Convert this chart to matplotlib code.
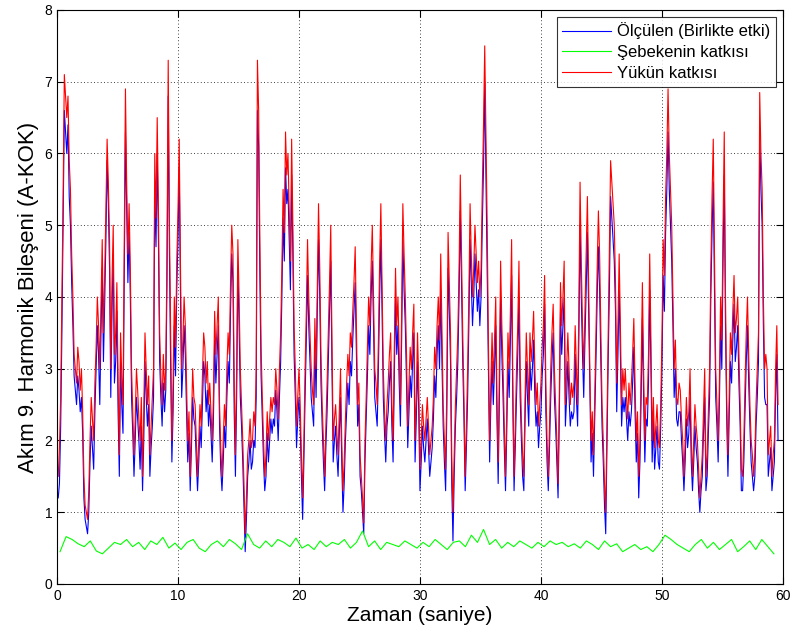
import numpy as np
import matplotlib
matplotlib.use("Agg")
import matplotlib.pyplot as plt

plt.rcParams['font.family'] = ['Liberation Sans', 'DejaVu Sans']

# Load contribution of the 9th harmonic current (A rms), 10 samples per row
load_part = [
    1.5, 1.9, 2.6, 4.0, 5.4, 7.1, 6.8, 6.5, 6.8, 5.9,
    5.5, 4.6, 4.0, 3.2, 3.0, 2.8, 3.3, 3.1, 2.7, 3.0,
    2.4, 1.5, 1.1, 1.0, 0.9, 1.3, 2.0, 2.6, 2.3, 2.0,
    2.8, 3.3, 4.0, 3.6, 3.0, 3.9, 4.8, 3.5, 4.3, 5.2,
    6.2, 5.6, 4.8, 3.0, 4.2, 5.0, 3.2, 3.5, 4.2, 2.8,
    1.8, 3.5, 2.9, 2.5, 4.8, 6.9, 5.6, 4.6, 5.3, 4.4,
    3.0, 2.4, 1.8, 2.3, 3.0, 2.7, 2.3, 2.0, 2.6, 1.5,
    2.4, 3.5, 3.0, 2.5, 2.9, 1.8, 2.2, 2.6, 3.0, 6.0,
    5.1, 6.5, 5.2, 3.5, 2.9, 2.5, 3.2, 2.7, 3.0, 4.6,
    7.3, 5.0, 3.5, 2.0, 2.8, 4.0, 3.3, 4.5, 5.2, 6.2,
    4.5, 3.0, 3.4, 4.0, 3.6, 2.8, 2.0, 2.4, 1.5, 2.2,
    3.0, 2.6, 2.5, 2.0, 1.5, 2.0, 2.5, 2.2, 2.9, 3.5,
    3.3, 2.8, 3.1, 2.5, 2.8, 2.4, 2.0, 2.6, 3.8, 3.2,
    3.6, 4.0, 2.5, 1.9, 1.5, 2.0, 2.5, 2.2, 3.0, 3.5,
    3.2, 4.2, 5.0, 4.6, 2.8, 1.8, 3.0, 4.8, 4.0, 3.0,
    2.5, 2.0, 1.4, 0.7, 1.2, 1.8, 2.0, 2.3, 1.9, 2.0,
    2.4, 2.2, 3.0, 7.3, 6.6, 4.8, 3.3, 2.6, 2.0, 1.5,
    1.8, 2.4, 2.0, 2.3, 2.6, 2.4, 2.6, 2.5, 3.0, 2.7,
    2.3, 3.0, 3.5, 4.4, 5.5, 4.9, 6.3, 5.7, 6.0, 5.2,
    4.5, 6.2, 5.0, 3.6, 3.0, 2.2, 2.6, 3.0, 2.5, 1.8,
    1.2, 2.0, 3.0, 3.8, 4.8, 4.0, 3.5, 3.0, 2.7, 2.5,
    3.7, 3.0, 4.2, 5.3, 4.4, 3.2, 2.5, 2.0, 1.5, 2.2,
    2.8, 3.5, 4.2, 5.0, 3.4, 2.0, 2.3, 2.5, 2.1, 1.8,
    2.4, 3.0, 2.0, 1.3, 1.7, 2.3, 2.8, 3.2, 2.9, 3.5,
    3.3, 3.8, 4.2, 4.7, 3.6, 2.5, 2.8, 1.8, 1.5, 1.2,
    0.85, 2.0, 2.6, 3.3, 4.0, 3.6, 4.4, 5.0, 4.0, 3.0,
    2.8, 2.5, 3.4, 4.5, 5.3, 4.2, 3.0, 2.4, 2.0, 2.5,
    2.8, 3.2, 3.5, 2.5, 2.0, 3.3, 4.4, 3.6, 4.0, 3.2,
    2.5, 3.8, 5.3, 4.6, 4.0, 3.2, 2.2, 2.8, 3.3, 3.0,
    3.5, 3.9, 2.0, 2.6, 3.5, 2.8, 1.6, 2.0, 2.5, 2.2,
    2.0, 2.3, 2.6, 2.2, 1.8, 2.0, 2.2, 2.6, 3.3, 3.0,
    3.6, 4.0, 3.4, 4.6, 3.5, 2.5, 2.0, 1.6, 2.8, 4.9,
    4.2, 3.5, 1.8, 1.0, 1.8, 2.5, 3.0, 3.5, 4.4, 5.7,
    4.6, 3.5, 2.6, 1.5, 2.2, 3.0, 4.0, 5.3, 4.6, 4.0,
    4.4, 5.0, 4.6, 4.2, 4.5, 4.0, 4.4, 5.5, 6.4, 7.5,
    6.2, 5.0, 3.4, 2.0, 2.8, 3.5, 2.8, 3.4, 4.0, 2.6,
    1.7, 3.0, 4.5, 3.6, 3.0, 2.2, 1.5, 2.4, 3.5, 3.0,
    3.8, 4.8, 2.8, 1.5, 2.2, 3.0, 3.6, 4.5, 3.0, 2.3,
    1.8, 1.5, 2.6, 3.5, 3.0, 2.5, 3.5, 3.1, 3.4, 3.8,
    3.0, 2.5, 2.8, 2.2, 2.5, 2.8, 3.3, 3.6, 4.3, 2.8,
    2.0, 1.5, 2.2, 3.0, 3.5, 3.9, 3.0, 2.5, 2.0, 1.4,
    2.6, 4.2, 3.6, 4.0, 4.5, 2.5, 3.0, 3.5, 3.0, 2.5,
    2.8, 2.6, 2.8, 3.6, 3.0, 2.5, 3.8, 5.6, 4.5, 3.6,
    3.0, 3.8, 4.6, 5.4, 4.2, 3.0, 2.0, 2.4, 1.8, 2.6,
    3.5, 4.4, 5.2, 4.6, 3.5, 2.5, 2.0, 1.4, 1.0, 2.2,
    3.5, 4.6, 5.9, 5.6, 5.3, 5.0, 4.2, 2.8, 3.6, 4.6,
    3.6, 2.5, 3.0, 2.7, 3.0, 2.6, 2.3, 2.8, 2.5, 2.8,
    3.2, 3.7, 2.8, 2.0, 2.4, 1.5, 2.0, 3.0, 4.2, 3.0,
    2.0, 2.6, 2.5, 3.2, 4.6, 3.4, 2.0, 2.6, 1.9, 2.2,
    2.5, 2.0, 1.9, 2.5, 3.4, 4.8, 4.3, 5.4, 6.0, 6.9,
    6.0, 5.5, 5.0, 4.0, 3.0, 3.4, 2.6, 2.5, 2.8, 2.7,
    2.3, 2.0, 1.5, 2.0, 2.6, 2.2, 2.4, 3.0, 2.0, 1.5,
    2.0, 2.5, 2.2, 2.0, 1.6, 1.2, 1.5, 1.8, 2.4, 3.0,
    1.5, 1.8, 2.4, 3.0, 4.4, 5.4, 6.2, 4.6, 3.0, 2.5,
    2.0, 2.8, 4.0, 3.4, 5.0, 6.3, 4.0, 2.6, 1.8, 2.6,
    3.5, 3.2, 3.8, 4.3, 3.5, 3.7, 4.0, 3.2, 2.5, 1.6,
    1.5, 2.0, 2.8, 3.5, 4.0, 3.2, 2.5, 2.0, 1.8, 1.5,
    1.8, 2.5, 3.0, 3.5, 6.85, 6.0, 5.5, 4.0, 3.0, 3.2,
    3.0, 1.8, 2.0, 2.2, 1.5, 1.8, 2.0, 3.0, 3.6, 2.5,
]

# Measured (combined) value (A rms), same sampling
measured = [
    1.2, 1.4, 2.2, 3.5, 5.0, 6.6, 6.3, 6.0, 6.4, 5.4,
    5.0, 4.2, 3.6, 2.9, 2.7, 2.5, 2.9, 2.7, 2.4, 2.6,
    2.1, 1.2, 0.9, 0.8, 0.7, 1.0, 1.7, 2.2, 1.9, 1.6,
    2.4, 3.0, 3.6, 3.2, 2.5, 3.5, 4.4, 3.1, 3.9, 4.8,
    5.9, 5.3, 4.4, 2.6, 3.8, 4.6, 2.8, 3.1, 3.8, 2.4,
    1.5, 3.1, 2.5, 2.1, 4.3, 6.3, 5.2, 4.2, 4.9, 4.0,
    2.6, 2.1, 1.5, 2.0, 2.6, 2.3, 2.0, 1.6, 2.2, 1.3,
    2.0, 3.1, 2.6, 2.2, 2.5, 1.5, 1.9, 2.2, 2.6, 5.5,
    4.7, 6.0, 4.8, 3.1, 2.6, 2.2, 2.8, 2.4, 2.7, 4.2,
    6.8, 4.6, 3.0, 1.7, 2.4, 3.6, 2.9, 4.1, 4.8, 5.8,
    4.1, 2.6, 3.0, 3.6, 3.2, 2.4, 1.7, 2.1, 1.3, 1.9,
    2.6, 2.3, 2.2, 1.7, 1.3, 1.7, 2.2, 1.9, 2.5, 3.1,
    2.9, 2.4, 2.7, 2.2, 2.5, 2.1, 1.7, 2.3, 3.4, 2.8,
    3.2, 3.6, 2.2, 1.6, 1.3, 1.7, 2.2, 1.9, 2.6, 3.1,
    2.8, 3.8, 4.6, 4.2, 2.4, 1.5, 2.6, 4.4, 3.6, 2.6,
    2.2, 1.7, 1.1, 0.45, 0.9, 1.5, 1.7, 2.0, 1.6, 1.7,
    2.0, 1.9, 2.6, 6.6, 6.1, 4.3, 2.9, 2.3, 1.7, 1.3,
    1.5, 2.1, 1.7, 2.0, 2.3, 2.1, 2.3, 2.2, 2.7, 2.4,
    2.0, 2.6, 3.1, 4.0, 5.1, 4.5, 5.8, 5.3, 5.5, 4.8,
    4.1, 5.7, 4.6, 3.2, 2.6, 1.9, 2.3, 2.6, 2.2, 1.5,
    0.9, 1.7, 2.6, 3.4, 4.3, 3.6, 3.1, 2.6, 2.4, 2.2,
    3.3, 2.6, 3.8, 4.8, 4.0, 2.8, 2.2, 1.7, 1.3, 1.9,
    2.4, 3.1, 3.8, 4.5, 3.0, 1.7, 2.0, 2.2, 1.8, 1.5,
    2.1, 2.6, 1.7, 1.0, 1.4, 2.0, 2.4, 2.8, 2.5, 3.1,
    2.9, 3.4, 3.8, 4.2, 3.2, 2.2, 2.5, 1.5, 1.3, 1.0,
    0.7, 1.7, 2.3, 2.9, 3.6, 3.2, 4.0, 4.5, 3.6, 2.6,
    2.4, 2.2, 3.0, 4.0, 4.8, 3.8, 2.6, 2.1, 1.7, 2.2,
    2.4, 2.8, 3.1, 2.2, 1.7, 2.9, 4.0, 3.2, 3.6, 2.8,
    2.2, 3.4, 4.8, 4.1, 3.6, 2.8, 1.9, 2.4, 2.9, 2.6,
    3.1, 3.5, 1.7, 2.3, 3.1, 2.4, 1.3, 1.7, 2.2, 1.9,
    1.7, 2.0, 2.3, 1.9, 1.5, 1.7, 1.9, 2.3, 2.9, 2.6,
    3.2, 3.6, 3.0, 4.1, 3.1, 2.2, 1.7, 1.3, 2.4, 4.4,
    3.8, 3.1, 1.4, 0.6, 1.5, 2.2, 2.6, 3.1, 4.0, 5.2,
    4.2, 3.1, 2.3, 1.3, 1.9, 2.6, 3.6, 4.8, 4.2, 3.6,
    4.0, 4.6, 4.2, 3.8, 4.1, 3.6, 4.0, 5.0, 5.8, 7.0,
    5.7, 4.5, 3.0, 1.7, 2.5, 3.1, 2.5, 3.0, 3.6, 2.3,
    1.4, 2.6, 4.0, 3.2, 2.6, 1.9, 1.3, 2.1, 3.1, 2.6,
    3.4, 4.3, 2.5, 1.3, 1.9, 2.6, 3.2, 4.0, 2.6, 2.0,
    1.5, 1.3, 2.3, 3.1, 2.6, 2.2, 3.1, 2.7, 3.0, 3.4,
    2.6, 2.2, 2.4, 1.9, 2.2, 2.4, 2.9, 3.2, 3.9, 2.4,
    1.7, 1.3, 1.9, 2.6, 3.1, 3.5, 2.6, 2.2, 1.7, 1.2,
    2.3, 3.8, 3.2, 3.6, 4.0, 2.2, 2.6, 3.1, 2.6, 2.2,
    2.4, 2.3, 2.4, 3.2, 2.6, 2.2, 3.4, 5.0, 4.0, 3.2,
    2.6, 3.4, 4.1, 4.9, 3.8, 2.6, 1.7, 2.1, 1.5, 2.3,
    3.1, 4.0, 4.7, 4.1, 3.1, 2.2, 1.7, 1.1, 0.7, 1.9,
    3.1, 4.1, 5.4, 5.1, 4.8, 4.5, 3.8, 2.4, 3.2, 4.1,
    3.2, 2.2, 2.6, 2.4, 2.6, 2.3, 2.0, 2.4, 2.2, 2.4,
    2.8, 3.3, 2.4, 1.7, 2.1, 1.2, 1.7, 2.6, 3.7, 2.6,
    1.7, 2.3, 2.2, 2.8, 4.1, 3.0, 1.7, 2.3, 1.6, 1.9,
    2.2, 1.7, 1.6, 2.2, 3.0, 4.3, 3.8, 4.9, 5.5, 6.3,
    5.5, 5.0, 4.5, 3.6, 2.6, 3.0, 2.3, 2.2, 2.4, 2.4,
    2.0, 1.7, 1.3, 1.7, 2.3, 1.9, 2.1, 2.6, 1.7, 1.3,
    1.7, 2.2, 1.9, 1.7, 1.3, 1.0, 1.3, 1.5, 2.1, 2.6,
    1.3, 1.5, 2.1, 2.6, 4.0, 4.9, 5.6, 4.1, 2.6, 2.2,
    1.7, 2.5, 3.6, 3.0, 4.5, 5.7, 3.6, 2.3, 1.5, 2.3,
    3.1, 2.8, 3.4, 3.9, 3.1, 3.3, 3.6, 2.8, 2.2, 1.3,
    1.3, 1.7, 2.4, 3.1, 3.6, 2.8, 2.2, 1.7, 1.5, 1.3,
    1.5, 2.2, 2.6, 3.1, 6.3, 5.5, 5.0, 3.6, 2.6, 2.5,
    2.5, 1.5, 1.7, 1.9, 1.3, 1.5, 1.7, 2.6, 3.2, 2.0,
]

# Sampling instants of the two series above (s)
t_meas = np.arange(1, len(load_part) + 1) * 0.101

# Network contribution, one value every 0.5 s starting at 0.25 s
network_part = [0.45, 0.66, 0.62, 0.56, 0.52, 0.60, 0.46, 0.42, 0.50, 0.58,
                0.55, 0.62, 0.52, 0.58, 0.48, 0.60, 0.55, 0.65, 0.50, 0.57,
                0.48, 0.58, 0.62, 0.50, 0.45, 0.55, 0.60, 0.52, 0.62, 0.56,
                0.48, 0.70, 0.55, 0.50, 0.60, 0.52, 0.62, 0.58, 0.52, 0.64,
                0.50, 0.55, 0.48, 0.60, 0.52, 0.58, 0.55, 0.62, 0.50, 0.58,
                0.74, 0.52, 0.60, 0.48, 0.58, 0.55, 0.52, 0.60, 0.55, 0.50,
                0.58, 0.52, 0.62, 0.55, 0.48, 0.58, 0.60, 0.52, 0.68, 0.58,
                0.76, 0.55, 0.62, 0.50, 0.58, 0.52, 0.60, 0.55, 0.50, 0.58,
                0.52, 0.60, 0.55, 0.58, 0.52, 0.56, 0.50, 0.60, 0.55, 0.48,
                0.60, 0.52, 0.56, 0.45, 0.50, 0.55, 0.48, 0.52, 0.45, 0.55,
                0.68, 0.62, 0.55, 0.50, 0.45, 0.55, 0.62, 0.50, 0.58, 0.48,
                0.55, 0.62, 0.45, 0.52, 0.60, 0.48, 0.62, 0.52, 0.42]
t_grid = np.arange(len(network_part)) * 0.5 + 0.25

labels = ['Ölçülen (Birlikte etki)', 'Şebekenin katkısı', 'Yükün katkısı']

fig = plt.figure(figsize=(7.95, 6.44), dpi=100)
ax = fig.add_axes([0.0717, 0.0932, 0.9132, 0.8913])

ax.plot(t_meas, measured, color=(0, 0, 1), lw=0.8, label=labels[0])
ax.plot(t_grid, network_part, color=(0, 1, 0), lw=0.8, label=labels[1])
ax.plot(t_meas, load_part, color=(1, 0, 0), lw=0.8, label=labels[2])

ax.set_xlim(0, 60)
ax.set_ylim(0, 8)
ax.set_xticks(range(0, 61, 10))
ax.set_yticks(range(0, 9))
ax.grid(True, linestyle=(0, (1, 3)), color='black', linewidth=0.6)
ax.tick_params(direction='in', top=True, right=True, labelsize=10, length=5)
for s in ax.spines.values():
    s.set_linewidth(0.8)

ax.set_xlabel('Zaman (saniye)', fontsize=15, labelpad=2)
ax.set_ylabel('Akım 9. Harmonik Bileşeni (A-KOK)', fontsize=16, labelpad=4)

leg = ax.legend(loc='upper right', fontsize=12, frameon=True, fancybox=False,
                edgecolor='black', borderaxespad=0.42, handlelength=2.9,
                handletextpad=0.4, labelspacing=0.35, borderpad=0.33)
leg.get_frame().set_linewidth(0.8)

fig.savefig('out.png', dpi=100)
